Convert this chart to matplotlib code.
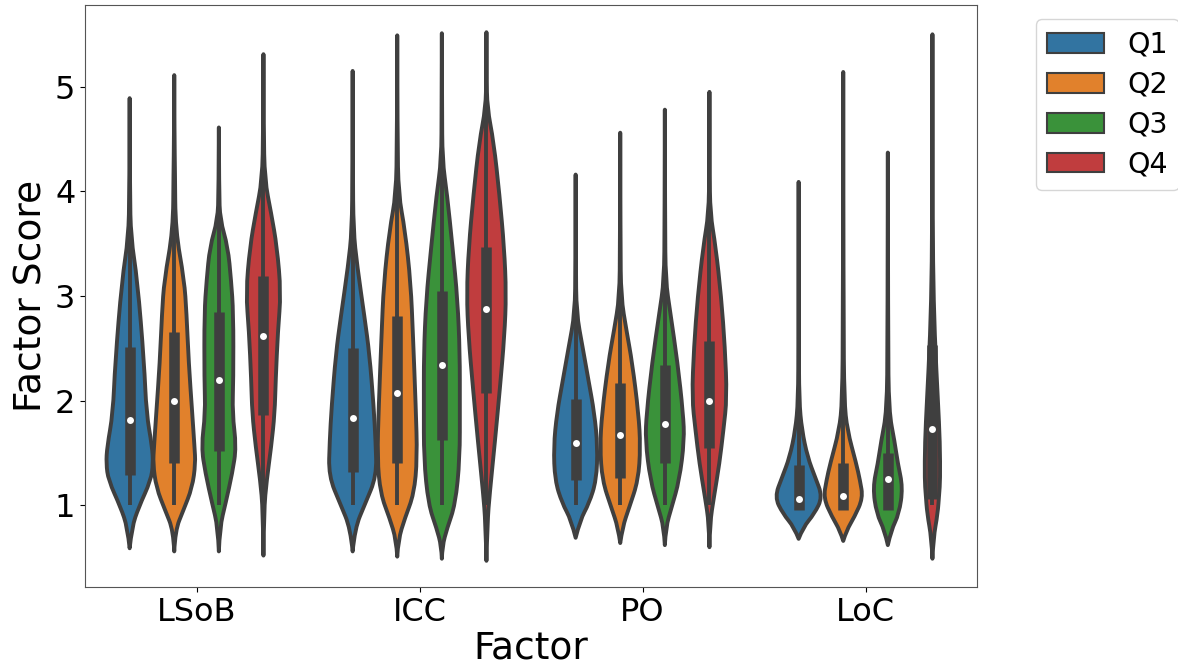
import matplotlib
matplotlib.use("Agg")
import matplotlib.pyplot as plt
from matplotlib.path import Path
from matplotlib.patches import PathPatch
import numpy as np

factors = ["LSoB", "ICC", "PO", "LoC"]
quartiles = ["Q1", "Q2", "Q3", "Q4"]
colors = ["#3274a1", "#e1812c", "#3a923a", "#c03d3e"]

# violin outlines: score levels and relative density (1 = widest)
lsob_y = [
    [0.59, 0.79, 0.98, 1.24, 1.40, 1.56, 1.88, 2.36, 3.15, 3.56, 4.00, 4.89],
    [0.56, 0.76, 0.95, 1.17, 1.40, 1.56, 1.88, 2.36, 2.84, 3.15, 3.63, 4.18, 4.50, 5.11],
    [0.56, 0.79, 1.02, 1.31, 1.56, 1.88, 2.20, 2.84, 3.15, 3.47, 3.73, 4.00, 4.61],
    [0.52, 0.95, 1.24, 1.56, 1.88, 2.20, 2.67, 3.03, 3.47, 3.79, 4.11, 4.60, 5.31],
]
lsob_d = [
    [0, 0.09, 0.36, 0.85, 0.94, 0.90, 0.67, 0.58, 0.31, 0.05, 0.01, 0],
    [0, 0.04, 0.36, 0.72, 0.85, 0.81, 0.72, 0.58, 0.49, 0.40, 0.05, 0.03, 0.01, 0],
    [0, 0.04, 0.27, 0.54, 0.70, 0.54, 0.58, 0.58, 0.49, 0.36, 0.05, 0.01, 0],
    [0, 0.02, 0.13, 0.31, 0.45, 0.49, 0.58, 0.70, 0.54, 0.31, 0.05, 0.01, 0],
]
icc_y = [
    [0.56, 0.78, 1.01, 1.28, 1.61, 1.95, 2.45, 2.79, 3.29, 3.63, 4.20, 5.15],
    [0.51, 0.67, 0.88, 1.11, 1.45, 1.95, 2.62, 3.12, 3.63, 3.97, 4.50, 5.49],
    [0.49, 0.61, 0.78, 1.01, 1.45, 1.95, 2.45, 2.96, 3.46, 3.97, 4.30, 4.80, 5.51],
    [0.47, 0.84, 1.11, 1.61, 2.12, 2.62, 3.02, 3.46, 3.97, 4.47, 4.80, 5.10, 5.52],
]
icc_d = [
    [0, 0.09, 0.49, 0.96, 0.92, 0.84, 0.67, 0.48, 0.18, 0.03, 0.01, 0],
    [0, 0.04, 0.31, 0.67, 0.80, 0.74, 0.63, 0.54, 0.31, 0.05, 0.01, 0],
    [0, 0.02, 0.21, 0.54, 0.72, 0.72, 0.72, 0.63, 0.43, 0.21, 0.02, 0.01, 0],
    [0, 0.04, 0.13, 0.34, 0.54, 0.72, 0.79, 0.71, 0.52, 0.29, 0.03, 0.01, 0],
]
po_y = [
    [0.69, 0.86, 1.02, 1.24, 1.56, 1.88, 2.20, 2.51, 2.84, 3.30, 4.16],
    [0.64, 0.79, 0.98, 1.24, 1.56, 1.88, 2.36, 2.67, 2.99, 3.50, 4.56],
    [0.62, 0.79, 0.98, 1.24, 1.62, 1.88, 2.36, 2.84, 3.15, 3.70, 4.78],
    [0.60, 0.83, 1.08, 1.40, 1.72, 2.03, 2.51, 2.99, 3.47, 3.79, 4.20, 4.95],
]
po_d = [
    [0, 0.18, 0.54, 0.83, 0.88, 0.75, 0.51, 0.28, 0.03, 0.01, 0],
    [0, 0.09, 0.36, 0.72, 0.81, 0.73, 0.48, 0.25, 0.03, 0.01, 0],
    [0, 0.04, 0.27, 0.58, 0.78, 0.73, 0.51, 0.22, 0.03, 0.01, 0],
    [0, 0.02, 0.18, 0.40, 0.56, 0.70, 0.62, 0.47, 0.25, 0.03, 0.01, 0],
]
loc_y = [
    [0.68, 0.79, 0.92, 1.08, 1.27, 1.46, 1.72, 2.00, 2.60, 4.09],
    [0.66, 0.76, 0.89, 1.07, 1.24, 1.40, 1.72, 2.00, 2.80, 5.14],
    [0.62, 0.76, 0.92, 1.17, 1.40, 1.61, 1.90, 2.60, 4.37],
    [0.49, 0.69, 0.92, 1.11, 1.24, 1.60, 2.00, 2.62, 3.30, 4.20, 5.50],
]
loc_d = [
    [0, 0.18, 0.63, 0.96, 0.66, 0.36, 0.13, 0.02, 0.01, 0],
    [0, 0.13, 0.45, 0.79, 0.67, 0.52, 0.16, 0.04, 0.01, 0],
    [0, 0.13, 0.45, 0.60, 0.40, 0.27, 0.04, 0.01, 0],
    [0, 0.04, 0.21, 0.27, 0.31, 0.30, 0.22, 0.09, 0.02, 0.01, 0],
]

# inner box statistics per factor (rows) and quartile (columns)
medians = [[1.82, 2.00, 2.20, 2.62], [1.83, 2.07, 2.34, 2.88],
           [1.60, 1.67, 1.78, 2.00], [1.06, 1.09, 1.25, 1.73]]
box_lo = [[1.29, 1.40, 1.52, 1.86], [1.32, 1.40, 1.62, 2.07],
          [1.24, 1.26, 1.40, 1.55], [0.96, 0.96, 0.96, 1.06]]
box_hi = [[2.51, 2.66, 2.85, 3.19], [2.50, 2.81, 3.05, 3.47],
          [2.02, 2.17, 2.34, 2.57], [1.39, 1.40, 1.50, 2.53]]
whisk_lo = [[1.0, 1.0, 1.0, 1.0], [1.0, 1.0, 1.0, 1.0],
            [1.0, 1.0, 1.0, 1.0], [0.96, 0.96, 0.96, 1.0]]
whisk_hi = [[4.34, 4.55, 4.61, 5.19], [4.27, 4.93, 5.20, 5.30],
            [3.19, 3.54, 3.75, 4.10], [2.03, 2.05, 2.31, 4.73]]

profiles_y = [lsob_y, icc_y, po_y, loc_y]
profiles_d = [lsob_d, icc_d, po_d, loc_d]

edge = "#3f3f3f"
lw = 2.8
half = 0.112


def side_path(pts):
    # quadratic curves through the midpoints of the read outline points
    verts = [pts[0]]
    codes = []
    for k in range(1, len(pts) - 1):
        mid = ((pts[k][0] + pts[k + 1][0]) / 2, (pts[k][1] + pts[k + 1][1]) / 2)
        if k == len(pts) - 2:
            mid = pts[k + 1]
        verts += [pts[k], mid]
        codes += [Path.CURVE3, Path.CURVE3]
    return verts, codes


def violin_patch(x, y, d, color):
    right = [(x + w * half, v) for v, w in zip(y, d)]
    left = [(x - w * half, v) for v, w in zip(y[::-1], d[::-1])]
    rv, rc = side_path(right)
    lv, lc = side_path(left)
    verts = rv + lv[1:] + [rv[0]]
    codes = [Path.MOVETO] + rc + lc + [Path.CLOSEPOLY]
    return PathPatch(Path(verts, codes), facecolor=color, edgecolor=edge,
                     linewidth=lw, joinstyle="round", zorder=1)


fig = plt.figure(figsize=(11.78, 6.65), dpi=100)
ax = fig.add_axes([0.0722, 0.1173, 0.7572, 0.8752])

for i in range(len(factors)):
    for j in range(len(quartiles)):
        x = i + (j - 1.5) * 0.2
        ax.add_patch(violin_patch(x, profiles_y[i][j], profiles_d[i][j], colors[j]))
        ax.plot([x, x], [whisk_lo[i][j], whisk_hi[i][j]], color=edge,
                linewidth=lw, solid_capstyle="butt", zorder=2)
        ax.plot([x, x], [box_lo[i][j], box_hi[i][j]], color=edge,
                linewidth=7.6, solid_capstyle="butt", zorder=2)
        ax.plot([x], [medians[i][j]], marker="o", color="white",
                markersize=5, markeredgewidth=0, zorder=3)

ax.set_xlim(-0.5, 3.5)
ax.set_ylim(0.22, 5.78)
ax.set_xticks(range(len(factors)))
ax.set_xticklabels(factors)
ax.set_yticks([1, 2, 3, 4, 5])
ax.tick_params(labelsize=23)
ax.set_xlabel("Factor", fontsize=27, labelpad=2)
ax.set_ylabel("Factor Score", fontsize=27)
for s in ax.spines.values():
    s.set_color("#555555")
    s.set_linewidth(0.8)

handles = [plt.Rectangle((0, 0), 1, 1, facecolor=c, edgecolor=edge, linewidth=1.5)
           for c in colors]
ax.legend(handles, quartiles, loc="upper left", bbox_to_anchor=(1.05, 1),
          fontsize=20.5, handlelength=2.0, labelspacing=0.42)

fig.savefig("out.png", dpi=100)
